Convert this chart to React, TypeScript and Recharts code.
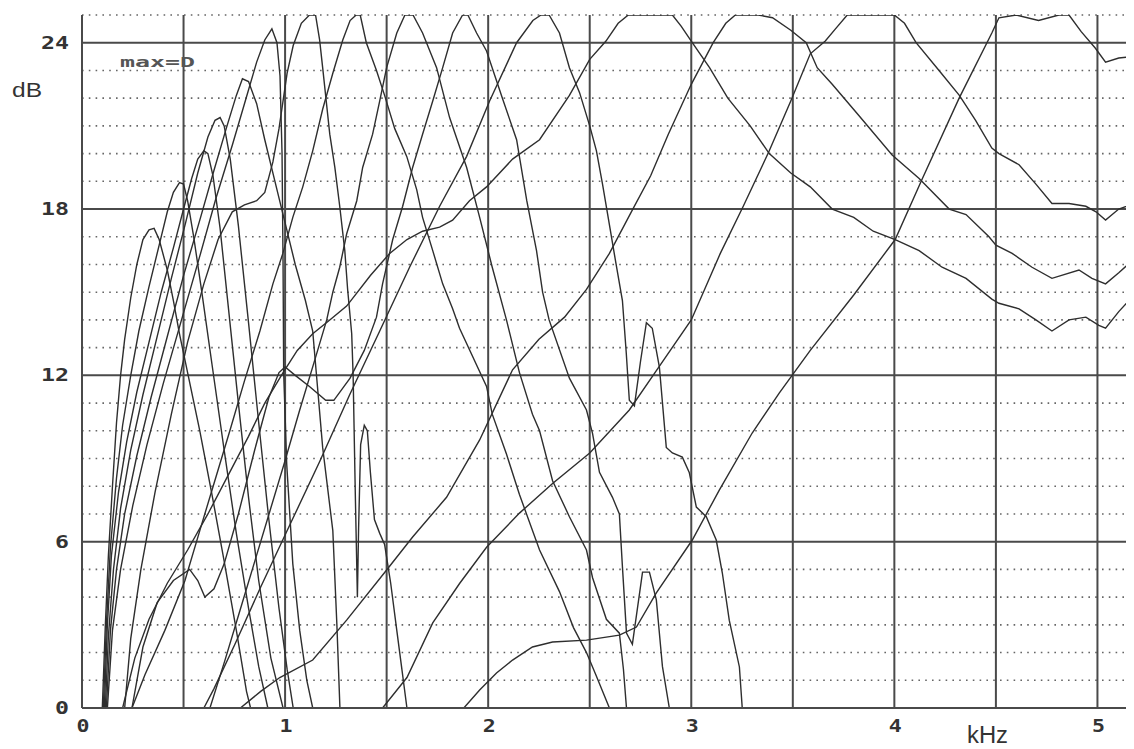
import { LineChart, Line, XAxis, YAxis, ReferenceLine } from 'recharts';

type Pt = [number, number];

// filter bank responses, [kHz, dB]
const band01: Pt[] = [[0.1,0],[0.115,3],[0.13,5.5],[0.15,8],[0.17,10.3],[0.19,12],[0.21,13.3],[0.24,14.8],[0.27,16],[0.3,16.9],[0.33,17.25],[0.355,17.3],[0.38,16.9],[0.42,15.8],[0.45,14.7],[0.48,13.5],[0.52,12.1],[0.58,10],[0.64,7.7],[0.7,5.3],[0.76,2.8],[0.81,0.6],[0.83,0]];
const band02: Pt[] = [[0.105,0],[0.12,3],[0.14,5.8],[0.17,8.3],[0.2,10.2],[0.24,12],[0.28,13.6],[0.33,15.2],[0.38,16.7],[0.42,17.9],[0.45,18.6],[0.48,18.95],[0.5,18.9],[0.52,18.3],[0.55,17],[0.59,15],[0.64,12.4],[0.7,9.3],[0.76,6.3],[0.82,3.6],[0.87,1.5],[0.915,0]];
const band03: Pt[] = [[0.11,0],[0.125,3],[0.145,5.5],[0.18,7.8],[0.22,9.6],[0.27,11.4],[0.33,13.2],[0.39,15],[0.45,16.6],[0.5,18],[0.54,19.1],[0.57,19.8],[0.6,20.1],[0.62,20],[0.645,19.2],[0.68,17.3],[0.72,14.5],[0.77,11],[0.82,7.6],[0.87,4.6],[0.93,1.8],[0.99,0]];
const band04: Pt[] = [[0.115,0],[0.13,2.6],[0.155,5],[0.19,7.2],[0.24,9.3],[0.3,11.3],[0.37,13.4],[0.44,15.5],[0.51,17.5],[0.57,19.3],[0.62,20.6],[0.655,21.2],[0.68,21.3],[0.7,21],[0.73,19.8],[0.77,17.4],[0.82,13.9],[0.87,10.3],[0.92,6.8],[0.97,3.6],[1.01,1.4],[1.04,0]];
const band05: Pt[] = [[0.12,0],[0.14,2.8],[0.17,5],[0.21,7],[0.27,9.1],[0.34,11.2],[0.42,13.4],[0.5,15.6],[0.58,17.6],[0.65,19.4],[0.71,20.9],[0.76,22.1],[0.79,22.7],[0.82,22.6],[0.86,21.8],[0.9,20.5],[0.95,19],[1.0,17.5],[1.05,16],[1.1,14.7],[1.136,13.6],[1.185,9.4],[1.235,6.4],[1.255,3],[1.27,0]];
const band06: Pt[] = [[0.125,0],[0.15,2.8],[0.19,5],[0.25,7.3],[0.32,9.5],[0.4,11.7],[0.49,14],[0.58,16.3],[0.66,18.4],[0.74,20.3],[0.8,21.8],[0.86,23.3],[0.9,24.1],[0.935,24.5],[0.96,24],[0.975,22.8],[0.985,20],[0.99,16],[0.993,12.1],[1.008,8.8],[1.038,5.2],[1.072,2.8],[1.107,1],[1.136,0]];
const band07: Pt[] = [[0.21,0],[0.24,2.5],[0.29,5],[0.36,7.8],[0.44,10.6],[0.52,13.2],[0.6,15.3],[0.67,16.9],[0.74,17.9],[0.8,18.15],[0.86,18.3],[0.9,18.6],[0.94,19.7],[0.97,20.9],[0.99,21.9],[1.01,22.9],[1.04,23.9],[1.08,24.7],[1.12,25],[1.15,25],[1.17,24.1],[1.185,23.1],[1.22,20.7],[1.245,19.5],[1.269,18.1],[1.294,16.5],[1.308,15.1],[1.328,13.5],[1.335,12],[1.345,8],[1.356,4],[1.362,6.5],[1.372,9.5],[1.39,10.2],[1.405,10],[1.42,8.5],[1.44,6.8],[1.466,6.3],[1.49,5.9],[1.52,4.5],[1.55,2.8],[1.575,1.4],[1.6,0]];
const band08: Pt[] = [[0.246,0],[0.31,1.2],[0.408,2.8],[0.507,4.6],[0.58,6.4],[0.654,8.2],[0.728,10],[0.8,11.8],[0.876,13.6],[0.94,15.3],[0.989,16.4],[1.038,17.7],[1.087,18.8],[1.136,20.1],[1.185,21.6],[1.235,22.9],[1.284,24.1],[1.32,24.8],[1.35,25],[1.37,25],[1.4,24],[1.45,23],[1.49,22.1],[1.54,20.9],[1.599,19.9],[1.648,18.7],[1.677,17.7],[1.727,16.5],[1.776,15.3],[1.825,14.4],[1.859,13.7],[1.992,11.6],[2.02,10.6],[2.09,9.16],[2.154,7.7],[2.253,5.7],[2.351,4.2],[2.42,2.9],[2.484,2],[2.53,1.2],[2.597,0]];
const band09: Pt[] = [[0.63,0],[0.703,1.7],[0.777,3.5],[0.851,5.3],[0.925,7.1],[0.999,8.9],[1.072,10.75],[1.146,12.55],[1.205,14],[1.235,15],[1.269,15.9],[1.303,17.1],[1.353,18.3],[1.382,19.5],[1.431,20.7],[1.466,21.9],[1.5,23.1],[1.55,24.35],[1.59,25],[1.63,25],[1.677,24.35],[1.746,23.1],[1.81,21.3],[1.894,19.5],[1.958,17.7],[2.02,15.9],[2.09,14],[2.154,12.1],[2.218,10.6],[2.253,10],[2.317,8.2],[2.4,6.9],[2.484,5.7],[2.514,4.7],[2.582,3.2],[2.646,2.7],[2.666,1.4],[2.681,0]];
const band10: Pt[] = [[0.246,0],[0.3,2.2],[0.37,3.8],[0.45,4.6],[0.53,5],[0.57,4.6],[0.605,4],[0.65,4.3],[0.7,5.2],[0.77,7],[0.85,9.3],[0.92,11.2],[0.97,12.1],[1.0,12.3],[1.05,12],[1.12,11.6],[1.2,11.1],[1.24,11.1],[1.32,11.9],[1.39,12.9],[1.45,14.1],[1.48,15.3],[1.53,16.9],[1.579,18.1],[1.628,19.5],[1.677,20.7],[1.727,21.9],[1.776,23.1],[1.825,24.35],[1.874,25],[1.9,25],[1.943,24.35],[1.992,23.7],[2.07,22],[2.14,20.5],[2.19,18.3],[2.238,16.5],[2.268,15],[2.3,14],[2.4,11.9],[2.484,10.75],[2.514,9.9],[2.548,8.5],[2.612,7.6],[2.646,7],[2.661,5.1],[2.681,2.7],[2.71,2.3],[2.76,4.9],[2.794,4.9],[2.828,3.9],[2.858,1.5],[2.892,0]];
const band11: Pt[] = [[0.6,0],[0.65,0.7],[0.753,2.3],[0.876,4.3],[1.023,6.6],[1.171,8.9],[1.318,11.3],[1.466,13.6],[1.613,15.9],[1.761,18.1],[1.894,19.9],[2.007,21.9],[2.14,24],[2.22,24.8],[2.26,25],[2.3,25],[2.351,24.35],[2.4,23.1],[2.45,22.2],[2.5,21],[2.533,20.1],[2.563,18.9],[2.6,17.3],[2.63,16],[2.661,14.7],[2.68,12.8],[2.695,11.1],[2.72,10.9],[2.75,12.5],[2.779,13.9],[2.808,13.7],[2.843,12.3],[2.877,9.4],[2.907,9.2],[2.956,9.05],[2.99,8.5],[3.025,7.25],[3.074,6.9],[3.123,6.06],[3.153,4.87],[3.187,3.17],[3.237,1.48],[3.251,0]];
const band12: Pt[] = [[0.2,0],[0.26,1.8],[0.33,3.2],[0.42,4.5],[0.52,5.7],[0.62,7],[0.72,8.4],[0.82,9.8],[0.9,11],[0.99,12.1],[1.06,12.9],[1.136,13.5],[1.22,14],[1.303,14.5],[1.42,15.6],[1.515,16.4],[1.6,16.9],[1.677,17.2],[1.761,17.35],[1.825,17.6],[1.908,18.3],[1.992,18.8],[2.12,19.8],[2.253,20.5],[2.4,22.1],[2.5,23.4],[2.58,24.06],[2.64,24.7],[2.69,25],[2.8,25],[2.907,25],[2.95,24.6],[3.005,24],[3.09,23.1],[3.18,22],[3.29,21],[3.384,20],[3.49,19.3],[3.586,18.8],[3.694,18],[3.8,17.7],[3.896,17.2],[4.004,16.9],[4.122,16.5],[4.235,15.9],[4.353,15.5],[4.48,14.75],[4.515,14.6],[4.614,14.4],[4.697,14],[4.776,13.6],[4.86,14],[4.943,14.1],[5.007,13.8],[5.04,13.7],[5.105,14.3],[5.18,14.9]];
const band13: Pt[] = [[0.78,0],[0.88,0.6],[0.974,1.1],[1.136,1.73],[1.303,3.17],[1.5,4.98],[1.628,6.17],[1.795,7.6],[1.958,9.67],[2.12,12.2],[2.25,13.3],[2.376,14.1],[2.484,15.1],[2.597,16.4],[2.705,17.9],[2.8,19.2],[2.887,20.7],[3.0,22.5],[3.108,24],[3.17,24.7],[3.217,25],[3.33,25],[3.4,24.9],[3.49,24.45],[3.566,24],[3.62,23.1],[3.694,22.5],[3.822,21.4],[3.989,19.95],[4.122,19.1],[4.27,18],[4.353,17.8],[4.466,17],[4.5,16.7],[4.58,16.4],[4.678,15.9],[4.776,15.5],[4.909,15.8],[4.973,15.5],[5.04,15.3],[5.105,15.7],[5.18,16.2]];
const band14: Pt[] = [[1.48,0],[1.6,1.1],[1.727,3.07],[1.86,4.5],[1.992,5.8],[2.154,7.03],[2.317,8.1],[2.5,9.2],[2.695,10.75],[2.84,12.3],[3.0,14],[3.143,16.4],[3.256,18.1],[3.384,20.1],[3.49,21.9],[3.586,23.6],[3.66,24.06],[3.71,24.5],[3.768,25],[4.0,25],[4.05,24.7],[4.107,24],[4.22,23],[4.32,22.1],[4.4,21.2],[4.48,20.2],[4.515,20],[4.614,19.6],[4.697,18.9],[4.776,18.2],[4.86,18.2],[4.943,18.1],[4.993,17.9],[5.04,17.6],[5.105,18],[5.18,18.2]];
const band15: Pt[] = [[1.88,0],[1.958,0.65],[2.041,1.26],[2.12,1.73],[2.218,2.2],[2.317,2.38],[2.484,2.45],[2.646,2.63],[2.73,2.92],[2.828,4.15],[3.005,6.06],[3.138,7.86],[3.3,9.92],[3.433,11.36],[3.586,12.9],[3.8,14.9],[4.004,16.9],[4.132,19],[4.319,22],[4.48,24.35],[4.515,24.9],[4.6,25],[4.71,24.8],[4.81,25],[4.86,25],[4.92,24.4],[4.99,23.8],[5.04,23.3],[5.105,23.45],[5.18,23.5]];

const bands = [band01, band02, band03, band04, band05, band06, band07, band08, band09, band10, band11, band12, band13, band14, band15];

const xTicks = [0, 1, 2, 3, 4, 5];
const yTicks = [0, 6, 12, 18, 24];
const majorX = [0.5, 1, 1.5, 2, 2.5, 3, 3.5, 4, 4.5, 5];
const majorY = [6, 12, 18, 24];
const minorY = [1, 2, 3, 4, 5, 7, 8, 9, 10, 11, 13, 14, 15, 16, 17, 19, 20, 21, 22, 23, 25];

const INK = '#2e2e2e';
const GRID = '#4a4a4a';
const tickFont = { fontFamily: 'DejaVu Sans Mono', fontWeight: 700, fontSize: 17, fill: '#333' };

const YTick = ({ x, y, payload }: any) => {
  const s = String(payload.value);
  return (
    <text x={x} y={y} dy={6} textAnchor="end" {...tickFont} textLength={s.length * 14} lengthAdjust="spacingAndGlyphs">
      {s}
    </text>
  );
};

const XTick = ({ x, y, payload }: any) => {
  const s = String(payload.value);
  return (
    <text x={x + 1} y={y + 24} textAnchor="middle" {...tickFont} textLength={s.length * 13} lengthAdjust="spacingAndGlyphs">
      {s}
    </text>
  );
};

export default function App() {
  return (
    <div style={{ position: 'relative', width: 1126, height: 741, background: '#fff' }}>
      <LineChart width={1126} height={741} margin={{ top: 7, right: 0, bottom: 0, left: 0 }}>
        <XAxis
          type="number"
          dataKey="x"
          domain={[0, 5.18]}
          ticks={xTicks}
          height={41}
          tickSize={0}
          tickMargin={0}
          tickLine={false}
          axisLine={{ stroke: GRID, strokeWidth: 2 }}
          tick={<XTick />}
          allowDataOverflow
        />
        <YAxis
          type="number"
          domain={[0, 25]}
          ticks={yTicks}
          width={74}
          tickSize={0}
          tickMargin={13}
          tickLine={false}
          axisLine={{ stroke: GRID, strokeWidth: 2 }}
          tick={<YTick />}
          allowDataOverflow
        />
        {minorY.map((v) => (
          <ReferenceLine key={`m${v}`} y={v} stroke="#666" strokeWidth={1.6} strokeDasharray="1.6 5.2" />
        ))}
        {majorY.map((v) => (
          <ReferenceLine key={`y${v}`} y={v} stroke={GRID} strokeWidth={2} />
        ))}
        {majorX.map((v) => (
          <ReferenceLine key={`x${v}`} x={v} stroke={GRID} strokeWidth={2} />
        ))}
        {bands.map((b, i) => (
          <Line
            key={i}
            data={b.map(([x, y]) => ({ x, y }))}
            dataKey="y"
            type="linear"
            stroke={INK}
            strokeWidth={1.4}
            dot={false}
            activeDot={false}
            isAnimationActive={false}
          />
        ))}
      </LineChart>
      <svg width={1126} height={741} style={{ position: 'absolute', left: 0, top: 0, pointerEvents: 'none' }}>
        <text x={4} y={89} fontFamily="Liberation Sans" fontSize={21} fill="#333" textLength={30} lengthAdjust="spacingAndGlyphs">
          dB
        </text>
        <text x={959} y={735} fontFamily="Liberation Sans" fontSize={23} fill="#333" textLength={41} lengthAdjust="spacingAndGlyphs">
          kHz
        </text>
        <text x={112} y={59} fontFamily="DejaVu Sans Mono" fontWeight={600} fontSize={14} fill="#555" textLength={75} lengthAdjust="spacingAndGlyphs">
          max=D
        </text>
      </svg>
    </div>
  );
}
